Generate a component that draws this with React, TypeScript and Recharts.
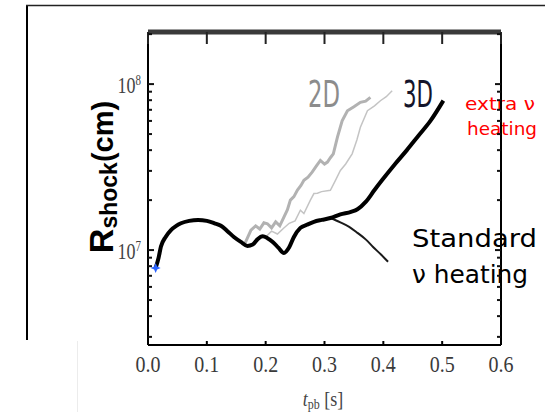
import React from 'react';
import { LineChart, Line, XAxis, YAxis, ReferenceDot } from 'recharts';

// ---- data ----
const xTicks = [0, 0.1, 0.2, 0.3, 0.4, 0.5, 0.6];
const xDomain: [number, number] = [0, 0.6];
const yMajorTicks = [1e7, 1e8];
const yMinorTicks = [3e6, 4e6, 5e6, 6e6, 7e6, 8e6, 9e6, 2e7, 3e7, 4e7, 5e7, 6e7, 7e7, 8e7, 9e7, 2e8];
const yDomain: [number, number] = [2.68e6, 2.06e8];

// 3D (extra neutrino heating)
const t3D = [0.013, 0.018, 0.022, 0.03, 0.039, 0.048, 0.056, 0.07, 0.085, 0.1, 0.113, 0.124, 0.135, 0.146, 0.158, 0.169, 0.178, 0.186, 0.195, 0.203, 0.212, 0.222, 0.231, 0.24, 0.248, 0.259, 0.27, 0.282, 0.295, 0.31, 0.327, 0.345, 0.356, 0.37, 0.385, 0.398, 0.42, 0.44, 0.46, 0.48, 0.502];
const r3D = [7.8e6, 9.0e6, 1.05e7, 1.2e7, 1.32e7, 1.4e7, 1.45e7, 1.5e7, 1.52e7, 1.5e7, 1.45e7, 1.4e7, 1.3e7, 1.2e7, 1.12e7, 1.06e7, 1.08e7, 1.16e7, 1.21e7, 1.18e7, 1.12e7, 1.03e7, 9.6e6, 1.04e7, 1.2e7, 1.36e7, 1.42e7, 1.48e7, 1.52e7, 1.56e7, 1.64e7, 1.7e7, 1.76e7, 1.95e7, 2.3e7, 2.64e7, 3.3e7, 4.0e7, 4.9e7, 6.0e7, 7.95e7];

// 3D standard heating (diverges after ~0.31 s)
const tStd = [0.31, 0.327, 0.342, 0.356, 0.37, 0.383, 0.396, 0.408];
const rStd = [1.56e7, 1.47e7, 1.38e7, 1.27e7, 1.16e7, 1.04e7, 9.4e6, 8.5e6];

// 2D runs
const t2Da = [0.165, 0.175, 0.183, 0.19, 0.197, 0.203, 0.21, 0.217, 0.224, 0.231, 0.237, 0.242, 0.248, 0.254, 0.26, 0.265, 0.272, 0.279, 0.286, 0.293, 0.3, 0.305, 0.31, 0.315, 0.322, 0.33, 0.339, 0.35, 0.361, 0.37, 0.378];
const r2Da = [1.1e7, 1.32e7, 1.4e7, 1.34e7, 1.46e7, 1.44e7, 1.36e7, 1.48e7, 1.4e7, 1.58e7, 1.75e7, 2.0e7, 2.1e7, 2.3e7, 2.45e7, 2.63e7, 2.75e7, 2.95e7, 3.2e7, 3.47e7, 3.3e7, 3.39e7, 3.6e7, 3.8e7, 4.79e7, 6.0e7, 6.9e7, 7.3e7, 7.76e7, 7.9e7, 8.32e7];
const t2Db = [0.2, 0.21, 0.22, 0.23, 0.24, 0.25, 0.259, 0.265, 0.276, 0.282, 0.288, 0.295, 0.31, 0.318, 0.327, 0.336, 0.347, 0.355, 0.361, 0.373, 0.385, 0.395, 0.405, 0.415];
const r2Db = [1.2e7, 1.3e7, 1.25e7, 1.35e7, 1.45e7, 1.5e7, 1.74e7, 1.66e7, 2.0e7, 2.19e7, 2.2e7, 2.25e7, 2.29e7, 2.6e7, 3.02e7, 3.3e7, 3.8e7, 4.6e7, 5.5e7, 6.92e7, 7.4e7, 7.94e7, 8.4e7, 9.12e7];

const startT = 0.013;
const startR = 7.8e6;

const toPts = (ts: number[], rs: number[]) => ts.map((t, i) => ({ t, r: rs[i] }));
const data3D = toPts(t3D, r3D);
const dataStd = toPts(tStd, rStd);
const data2Da = toPts(t2Da, r2Da);
const data2Db = toPts(t2Db, r2Db);
const allY = [...yMinorTicks, ...yMajorTicks].sort((a, b) => a - b);

const serif = 'Liberation Serif, DejaVu Serif, serif';
const sans = 'DejaVu Sans, sans-serif';

const BottomTick = (props: any) => {
  const { x, y, payload } = props;
  const v = payload.value as number;
  return (
    <g>
      <line x1={x} x2={x} y1={y} y2={y - 4} stroke="#000" strokeWidth={2} />
      <text transform={`translate(${x},${y + 27}) scale(1,1.15)`} textAnchor="middle" fontFamily={serif} fontSize={20} fill="#3a3a3a">
        {v.toFixed(1)}
      </text>
    </g>
  );
};

const TopTick = (props: any) => {
  const { x, y } = props;
  return <g><line x1={x} x2={x} y1={y} y2={y + 12} stroke="#222" strokeWidth={2} /></g>;
};

const LeftTick = (props: any) => {
  const { x, y, payload } = props;
  const v = payload.value as number;
  const isMajor = yMajorTicks.includes(v);
  return (
    <g>
      <line x1={x} x2={x + (isMajor ? 6 : 4)} y1={y} y2={y} stroke="#111" strokeWidth={2} />
      {isMajor && (
        <text transform={`translate(${x - 7},${y + 9}) scale(1,1.3)`} textAnchor="end" fontFamily={serif} fontSize={18} fill="#444">
          10<tspan fontSize={11} dy={-6}>{Math.round(Math.log10(v))}</tspan>
        </text>
      )}
    </g>
  );
};

const RightTick = (props: any) => {
  const { x, y, payload } = props;
  const isMajor = yMajorTicks.includes(payload.value);
  return <g><line x1={x} x2={x - (isMajor ? 6 : 4)} y1={y} y2={y} stroke="#111" strokeWidth={2} /></g>;
};

const Decor = () => (
  <g>
    <line x1={27} x2={27} y1={5} y2={340} stroke="#000" strokeWidth={2} />
    <line x1={26} x2={545} y1={5.5} y2={5.5} stroke="#222" strokeWidth={1.5} />
    <line x1={77.5} x2={77.5} y1={341} y2={412} stroke="#ececec" strokeWidth={1} />
    <text transform="translate(113,177) rotate(-90)" textAnchor="middle" fontFamily="Liberation Sans, Arial, sans-serif" fontWeight="bold" fill="#000">
      <tspan fontSize={34}>R</tspan>
      <tspan fontSize={23} dy={4}>shock</tspan>
      <tspan fontSize={29} dy={-4}>(cm)</tspan>
    </text>
    <text transform="translate(323,406) scale(1,1.15)" textAnchor="middle" fontFamily={serif} fontSize={18} fill="#444">
      <tspan fontStyle="italic">t</tspan>
      <tspan fontSize={12} dy={3}>pb</tspan>
      <tspan dy={-3}> [s]</tspan>
    </text>
    <text x={308} y={107} fontFamily={sans} fontSize={37} fill="#8c8c8c" textLength={32} lengthAdjust="spacingAndGlyphs">2D</text>
    <text x={403} y={107} fontFamily={sans} fontSize={37} fill="#14142a" textLength={30} lengthAdjust="spacingAndGlyphs">3D</text>
    <rect x={446} y={80} width={99} height={73} fill="#fff" />
    <text x={465} y={110} fontFamily={sans} fontSize={18} fill="#ff0000" textLength={70} lengthAdjust="spacingAndGlyphs">extra ν</text>
    <text x={467} y={135} fontFamily={sans} fontSize={18} fill="#ff0000" textLength={70} lengthAdjust="spacingAndGlyphs">heating</text>
    <rect x={392} y={209} width={153} height={93} fill="#fff" />
    <text x={412} y={247} fontFamily={sans} fontSize={25} fill="#000" textLength={125} lengthAdjust="spacingAndGlyphs">Standard</text>
    <text x={412} y={283} fontFamily={sans} fontSize={25} fill="#000" textLength={116} lengthAdjust="spacingAndGlyphs">ν heating</text>
  </g>
);

const Star = (p: any) => {
  const cx = p.cx ?? 0;
  const cy = p.cy ?? 0;
  const d = `M${cx},${cy - 5} L${cx + 1.5},${cy - 1.5} L${cx + 5},${cy} L${cx + 1.5},${cy + 1.5} L${cx},${cy + 5} L${cx - 1.5},${cy + 1.5} L${cx - 5},${cy} L${cx - 1.5},${cy - 1.5} Z`;
  return <path d={d} fill="#2a63ff" />;
};

export default function App() {
  return (
    <div style={{ position: 'absolute', left: 0, top: 0, width: 545, height: 412, background: '#fff' }}>
      <LineChart width={545} height={412} margin={{ top: 31, right: 43, bottom: 37, left: 0 }}>
        <XAxis dataKey="t" type="number" domain={xDomain} ticks={xTicks} interval={0} height={30} tickSize={0} tickMargin={0} tickLine={false} tick={<BottomTick />} axisLine={{ stroke: '#000', strokeWidth: 2 }} />
        <XAxis xAxisId="top" orientation="top" dataKey="t" type="number" domain={xDomain} ticks={xTicks} interval={0} height={1} tickSize={0} tickMargin={0} tickLine={false} tick={<TopTick />} axisLine={{ stroke: '#3a3a3a', strokeWidth: 5 }} />
        <YAxis scale="log" type="number" domain={yDomain} ticks={allY} interval={0} width={148} tickSize={0} tickMargin={0} tickLine={false} tick={<LeftTick />} axisLine={{ stroke: '#000', strokeWidth: 2 }} label={<Decor />} />
        <YAxis yAxisId="right" orientation="right" scale="log" type="number" domain={yDomain} ticks={allY} interval={0} width={1} tickSize={0} tickMargin={0} tickLine={false} tick={<RightTick />} axisLine={{ stroke: '#000', strokeWidth: 2 }} />
        <Line data={data2Db} xAxisId="top" yAxisId="right" dataKey="r" type="linear" stroke="#c4c4c4" strokeWidth={1.5} dot={false} activeDot={false} isAnimationActive={false} />
        <Line data={data2Da} xAxisId="top" yAxisId="right" dataKey="r" type="linear" stroke="#b2b2b2" strokeWidth={3} dot={false} activeDot={false} isAnimationActive={false} />
        <Line data={dataStd} dataKey="r" type="monotone" stroke="#1a1a1a" strokeWidth={2} dot={false} activeDot={false} isAnimationActive={false} />
        <Line data={data3D} dataKey="r" type="monotone" stroke="#000" strokeWidth={4} dot={false} activeDot={false} isAnimationActive={false} />
        <ReferenceDot x={startT} y={startR} r={4} shape={<Star />} />
      </LineChart>
    </div>
  );
}
